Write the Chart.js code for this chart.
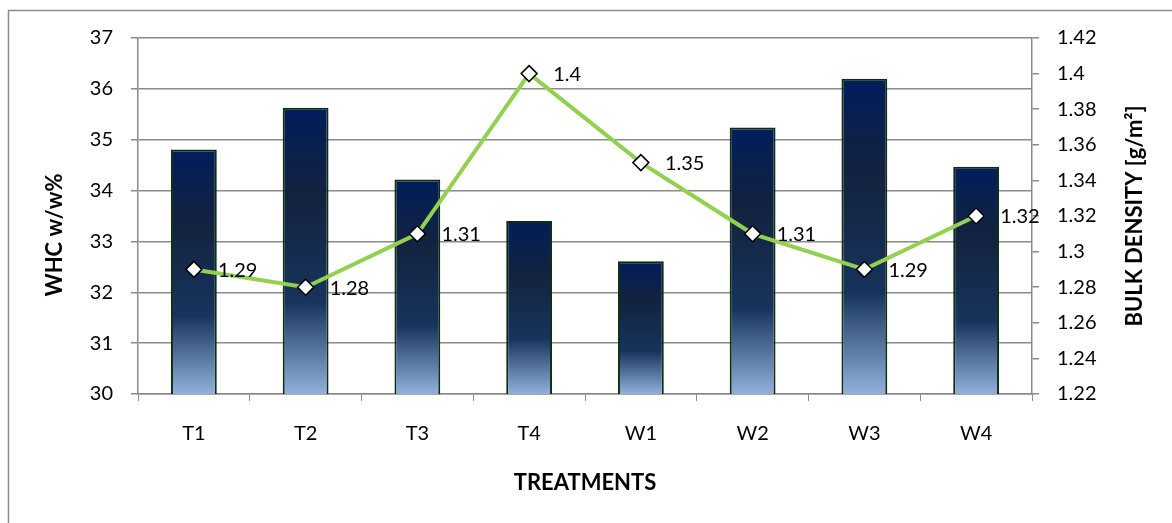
<!DOCTYPE html>
<html>
<head>
<meta charset="utf-8">
<script src="https://cdn.jsdelivr.net/npm/chart.js@4/dist/chart.umd.min.js"></script>
<style>
  html, body { margin: 0; padding: 0; background: #fff; }
  #wrap { width: 1172px; height: 523px; }
</style>
</head>
<body>
<div id="wrap"><canvas id="chart"></canvas></div>
<script>
// chart data
const treatments = ["T1", "T2", "T3", "T4", "W1", "W2", "W3", "W4"];
const whcValues = [34.81, 35.63, 34.22, 33.4, 32.61, 35.24, 36.2, 34.47];
const bulkDensity = [1.29, 1.28, 1.31, 1.4, 1.35, 1.31, 1.29, 1.32];
const whcTicks = [30, 31, 32, 33, 34, 35, 36, 37];
const densityTicks = [1.22, 1.24, 1.26, 1.28, 1.3, 1.32, 1.34, 1.36, 1.38, 1.4, 1.42];

const FONT = "Lato";
const GRID = "#8a8a8a";

// gradient for each bar, from its own top down to the axis
function barGradient(ctx) {
  const chart = ctx.chart;
  const area = chart.chartArea;
  if (!area || ctx.dataIndex === undefined) return "#14284a";
  const top = chart.scales.y.getPixelForValue(ctx.raw);
  const g = chart.ctx.createLinearGradient(0, top, 0, area.bottom);
  g.addColorStop(0, "#011e5b");
  g.addColorStop(0.3, "#13223f");
  g.addColorStop(0.68, "#17345c");
  g.addColorStop(1, "#91b1da");
  return g;
}

// frame, axis titles and point labels
const extras = {
  id: "extras",
  beforeDraw(chart) {
    const c = chart.ctx;
    c.save();
    c.fillStyle = "#fff";
    c.fillRect(0, 0, chart.width, chart.height);
    c.strokeStyle = "#8c8c8c";
    c.lineWidth = 1.5;
    c.strokeRect(8.5, 10.5, 1200, 600);
    c.restore();
  },
  afterDraw(chart) {
    const c = chart.ctx;
    c.save();
    c.fillStyle = "#000";
    c.font = "bold 22px " + FONT;
    c.textAlign = "center";
    c.textBaseline = "middle";
    c.fillText("TREATMENTS", 585, 483);
    c.translate(55, 235);
    c.rotate(-Math.PI / 2);
    c.fillText("WHC w/w%", 0, 0);
    c.setTransform(1, 0, 0, 1, 0, 0);
    c.translate(1135, 216);
    c.rotate(-Math.PI / 2);
    c.fillText("BULK DENSITY [g/m\u00b2]", 0, 0);
    c.restore();

    const meta = chart.getDatasetMeta(1);
    c.save();
    c.font = "20px " + FONT;
    c.fillStyle = "#000";
    c.textAlign = "left";
    c.textBaseline = "middle";
    meta.data.forEach((pt, i) => {
      c.fillText(String(bulkDensity[i]), pt.x + 24, pt.y + 1);
    });
    c.restore();
  }
};

function fixTicks(list) {
  return scale => { scale.ticks = list.map(v => ({ value: v })); };
}

new Chart(document.getElementById("chart"), {
  data: {
    labels: treatments,
    datasets: [
      {
        type: "bar",
        label: "WHC",
        data: whcValues,
        yAxisID: "y",
        order: 2,
        backgroundColor: barGradient,
        borderColor: "#0b2e12",
        borderWidth: 2,
        borderSkipped: false,
        barPercentage: 0.41,
        categoryPercentage: 1
      },
      {
        type: "line",
        label: "Bulk density",
        data: bulkDensity,
        yAxisID: "y1",
        order: 1,
        borderColor: "#92d050",
        borderWidth: 4,
        tension: 0,
        pointStyle: "rectRot",
        pointRadius: 8,
        pointBackgroundColor: "#fff",
        pointBorderColor: "#000",
        pointBorderWidth: 1.5
      }
    ]
  },
  options: {
    responsive: true,
    maintainAspectRatio: false,
    animation: false,
    layout: { padding: { left: 20, right: 10, top: 38, bottom: 10 } },
    plugins: {
      legend: { display: false },
      tooltip: { enabled: false }
    },
    scales: {
      x: {
        offset: true,
        grid: { display: true, drawOnChartArea: false, offset: true, color: GRID, tickLength: 7 },
        border: { color: GRID, width: 1.5 },
        ticks: { color: "#000", font: { family: FONT, size: 20 }, padding: 21 },
        afterFit: s => { s.height = 119; s.paddingLeft = 0; s.paddingRight = 0; }
      },
      y: {
        position: "left",
        min: 30,
        max: 37,
        afterBuildTicks: fixTicks(whcTicks),
        grid: { color: GRID, lineWidth: 1.5, tickLength: 7 },
        border: { color: GRID, width: 1.5 },
        ticks: { color: "#000", font: { family: FONT, size: 20 }, padding: 18 },
        afterFit: s => { s.width = 118; s.paddingTop = 0; s.paddingBottom = 0; }
      },
      y1: {
        position: "right",
        min: 1.22,
        max: 1.42,
        afterBuildTicks: fixTicks(densityTicks),
        grid: { drawOnChartArea: false, color: GRID, lineWidth: 1.5, tickLength: 7 },
        border: { color: GRID, width: 1.5 },
        ticks: {
          color: "#000",
          font: { family: FONT, size: 20 },
          padding: 18,
          callback: v => String(+v.toFixed(2))
        },
        afterFit: s => { s.width = 130; s.paddingTop = 0; s.paddingBottom = 0; }
      }
    }
  },
  plugins: [extras]
});
</script>
</body>
</html>
